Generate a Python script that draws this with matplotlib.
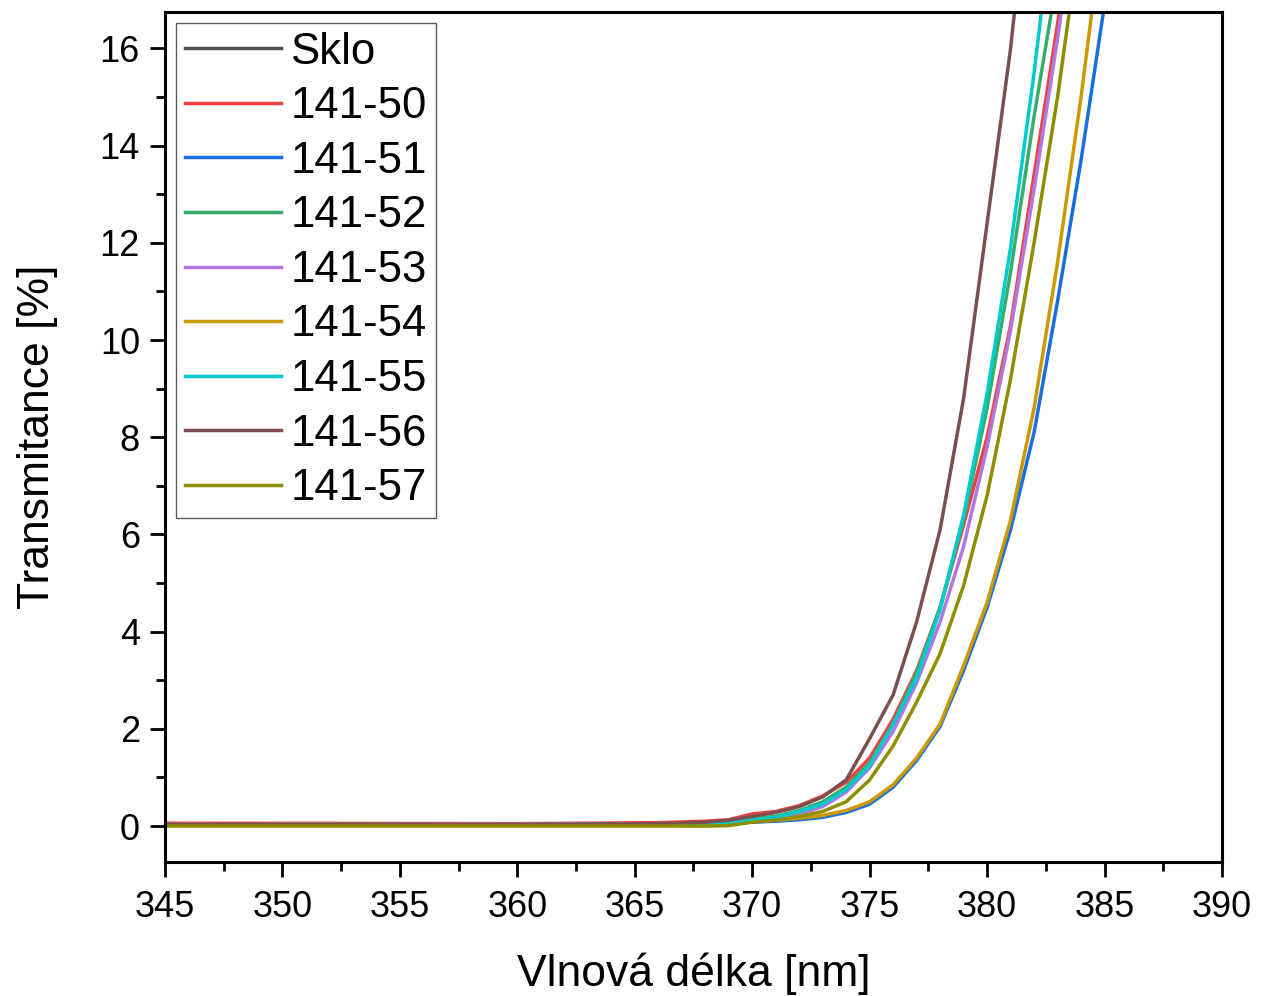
#%%
from matplotlib import pyplot as plt
import numpy as np

plt.rcParams['font.family'] = ['Liberation Sans', 'DejaVu Sans']

# wavelength grid (nm)
wl = [345, 360, 366, 368, 369, 370, 371, 372, 373, 374, 375, 376, 377, 378,
      379, 380, 381, 382, 383, 384, 385, 386]

# transmittance [%] (glass reference lies far above the plotted range)
sklo = [88.0, 88.5, 88.7, 88.8, 88.8, 88.9, 88.9, 89.0, 89.0, 89.0, 89.1, 89.1, 89.1, 89.2,
        89.2, 89.2, 89.3, 89.3, 89.3, 89.4, 89.4, 89.4]
s50 = [0.06, 0.05, 0.07, 0.10, 0.13, 0.25, 0.30, 0.42, 0.62, 0.90, 1.40, 2.20, 3.20, 4.50,
       6.20, 8.00, 10.3, 13.4, 16.5, 20.0, 24.0, 28.0]
s51 = [0.02, 0.02, 0.03, 0.04, 0.06, 0.08, 0.10, 0.13, 0.18, 0.28, 0.45, 0.80, 1.35, 2.05,
       3.20, 4.50, 6.10, 8.10, 10.8, 13.7, 16.9, 20.5]
s52 = [0.03, 0.03, 0.04, 0.06, 0.09, 0.15, 0.20, 0.32, 0.50, 0.80, 1.30, 2.10, 3.15, 4.50,
       6.30, 8.60, 11.4, 14.6, 17.5, 21.0, 25.0, 29.0]
s53 = [0.03, 0.03, 0.04, 0.05, 0.07, 0.10, 0.15, 0.25, 0.40, 0.70, 1.20, 1.95, 2.95, 4.20,
       5.75, 7.80, 10.2, 13.1, 16.2, 19.6, 23.5, 27.5]
s54 = [0.02, 0.02, 0.03, 0.04, 0.06, 0.10, 0.12, 0.16, 0.22, 0.32, 0.50, 0.85, 1.40, 2.10,
       3.30, 4.60, 6.30, 8.60, 11.6, 15.0, 18.8, 23.0]
s55 = [0.03, 0.03, 0.04, 0.05, 0.08, 0.12, 0.18, 0.30, 0.45, 0.75, 1.25, 2.10, 3.05, 4.45,
       6.40, 8.90, 11.9, 15.5, 19.5, 24.0, 28.0, 32.0]
s56 = [0.03, 0.03, 0.05, 0.08, 0.12, 0.20, 0.28, 0.40, 0.60, 0.95, 1.80, 2.70, 4.20, 6.10,
       8.80, 12.4, 16.0, 20.5, 25.0, 30.0, 35.0, 40.0]
s57 = [0.0, 0.0, 0.0, 0.0, 0.01, 0.08, 0.12, 0.20, 0.30, 0.50, 0.95, 1.65, 2.55, 3.55,
       4.95, 6.80, 9.20, 12.0, 15.0, 18.5, 22.0, 26.0]

labels = ["Sklo", "141-50", "141-51", "141-52", "141-53", "141-54", "141-55", "141-56", "141-57"]
series = [sklo, s50, s51, s52, s53, s54, s55, s56, s57]
colors = ["#515151", "#F14040", "#1A6FDF", "#37AD6B", "#B177DE", "#CC9900", "#00CBCC",
          "#7D4E4E", "#8E8E00"]

fig = plt.figure(figsize=(12.65, 9.96), dpi=100)
ax = fig.add_axes([0.1304, 0.1345, 0.8356, 0.8535])

for y, lab, c in zip(series, labels, colors):
    ax.plot(wl, y, color=c, lw=2.5, label=lab)

ax.set_xlim(345, 390)
ax.set_ylim(-0.74, 16.75)
ax.set_xticks(np.arange(345, 391, 5))
ax.set_xticks(np.arange(347.5, 390, 5), minor=True)
ax.set_yticks(np.arange(0, 17, 2))
ax.set_yticks(np.arange(1, 17, 2), minor=True)

for s in ax.spines.values():
    s.set_linewidth(2.2)
ax.tick_params(which="major", direction="out", length=11, width=2, labelsize=26, pad=7)
ax.tick_params(which="minor", direction="out", length=6.5, width=2)
ax.tick_params(axis="x", which="major", pad=9)

ax.set_xlabel("Vlnová délka [nm]", fontsize=32, labelpad=20)
ax.set_ylabel("Transmitance [%]", fontsize=32, labelpad=30)

leg = ax.legend(loc="upper left", fontsize=31.5, frameon=True, fancybox=False,
                edgecolor="#333333", handlelength=2.2, handletextpad=0.22,
                labelspacing=0.31, borderpad=0.2, borderaxespad=0.25)
leg.get_frame().set_linewidth(1.0)

fig.savefig("out.png", dpi=100)
# %%
